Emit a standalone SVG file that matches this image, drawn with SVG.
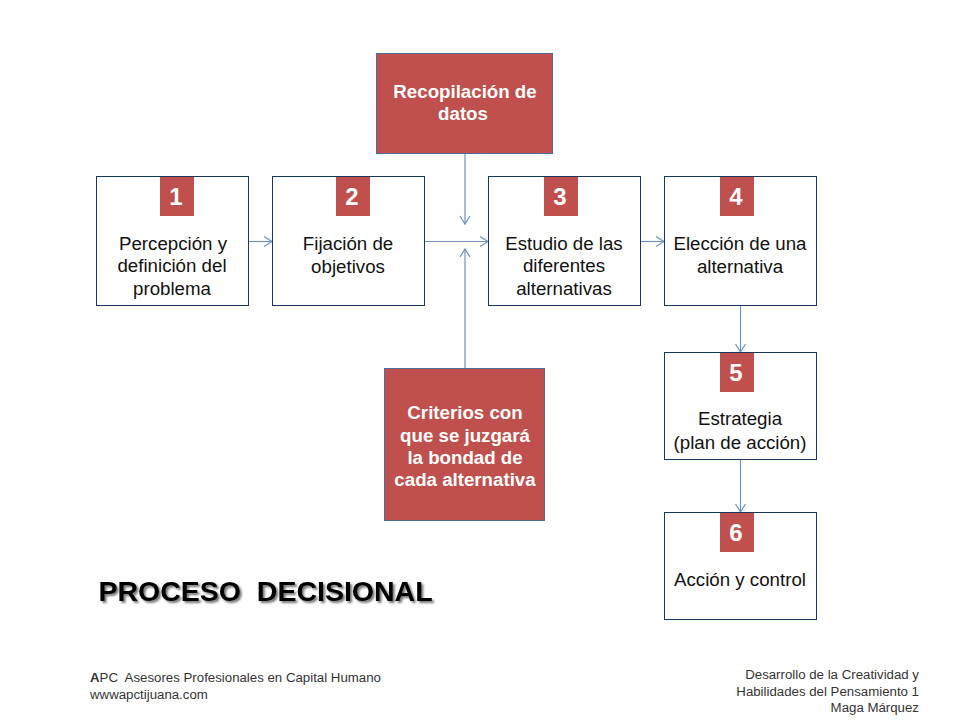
<svg xmlns="http://www.w3.org/2000/svg" width="960" height="720" viewBox="0 0 960 720">
<style>
text{font-family:"Liberation Sans",Arial,sans-serif;text-anchor:middle;fill:#111}
.box{fill:#fff;stroke:#17375e;stroke-width:1}
.red{fill:#c0504d;stroke:#4f6d9a;stroke-width:1}
.badge{fill:#c0504d}
.num{font-size:24px;font-weight:bold;fill:#fff}
.lbl{font-size:18.700px}
.w{font-size:18.700px;font-weight:bold;fill:#fff}
.foot{font-size:13.250px;fill:#333}
.c{fill:none;stroke:#6f93bd;stroke-width:1.2}
.h{fill:none;stroke:#6f93bd;stroke-width:1.2}
</style>
<defs>
<marker id="a" markerUnits="userSpaceOnUse" markerWidth="12" markerHeight="14" refX="10" refY="7" orient="auto"><path class="h" d="M2 2 L10 7 L2 12"/></marker>
<filter id="s" x="-5%" y="-30%" width="110%" height="160%"><feDropShadow dx="2" dy="2" stdDeviation="1.2" flood-color="#000" flood-opacity=".55"/></filter>
</defs>
<rect width="960" height="720" fill="#fff"/>
<g id="connectors">
<path class="c" marker-end="url(#a)" d="M248.500 241.500H272"/>
<path class="c" marker-end="url(#a)" d="M425 241.500H488"/>
<path class="c" marker-end="url(#a)" d="M640.500 241.500H664"/>
<path class="c" marker-end="url(#a)" d="M465 153V224"/>
<path class="c" marker-end="url(#a)" d="M465 368V249"/>
<path class="c" marker-end="url(#a)" d="M740.500 305V352"/>
<path class="c" marker-end="url(#a)" d="M740.500 460V512"/>
</g>
<g id="n1"><rect class="box" x="96.500" y="176.500" width="152" height="129"/><rect class="badge" x="160" y="177" width="34" height="39"/><text class="num" x="176" y="205">1</text><text class="lbl"><tspan x="173" y="250">Percepción y</tspan><tspan x="172" y="272">definición del</tspan><tspan x="172" y="295">problema</tspan></text></g>
<g id="n2"><rect class="box" x="272.500" y="176.500" width="152" height="129"/><rect class="badge" x="336" y="177" width="34" height="39"/><text class="num" x="352" y="205">2</text><text class="lbl"><tspan x="348" y="250">Fijación de</tspan><tspan x="348" y="273">objetivos</tspan></text></g>
<g id="n3"><rect class="box" x="488.500" y="176.500" width="152" height="129"/><rect class="badge" x="544" y="177" width="34" height="39"/><text class="num" x="560" y="205">3</text><text class="lbl"><tspan x="564" y="250">Estudio de las</tspan><tspan x="564" y="272">diferentes</tspan><tspan x="564" y="295">alternativas</tspan></text></g>
<g id="n4"><rect class="box" x="664.500" y="176.500" width="152" height="129"/><rect class="badge" x="720" y="177" width="34" height="39"/><text class="num" x="736" y="205">4</text><text class="lbl"><tspan x="740" y="250">Elección de una</tspan><tspan x="740" y="273">alternativa</tspan></text></g>
<g id="n5"><rect class="box" x="664.500" y="352.500" width="152" height="107"/><rect class="badge" x="720" y="353" width="34" height="39"/><text class="num" x="736" y="381">5</text><text class="lbl"><tspan x="740" y="425">Estrategia</tspan><tspan x="740" y="449">(plan de acción)</tspan></text></g>
<g id="n6"><rect class="box" x="664.500" y="512.500" width="152" height="107"/><rect class="badge" x="720" y="513" width="34" height="39"/><text class="num" x="736" y="541">6</text><text class="lbl" x="740" y="586">Acción y control</text></g>
<g id="r1"><rect class="red" x="376.500" y="53.500" width="176" height="100"/><text class="w"><tspan x="465" y="98">Recopilación de</tspan><tspan x="463" y="120">datos</tspan></text></g>
<g id="r2"><rect class="red" x="384.500" y="368.500" width="160" height="152"/><text class="w"><tspan x="465" y="419">Criterios con</tspan><tspan x="465" y="442">que se juzgará</tspan><tspan x="465" y="464">la bondad de</tspan><tspan x="465" y="486">cada alternativa</tspan></text></g>
<text x="265.500" y="601" font-size="28.500" font-weight="bold" style="fill:#000;white-space:pre" filter="url(#s)">PROCESO  DECISIONAL</text>
<text class="foot" style="text-anchor:start;white-space:pre"><tspan x="90" y="682"><tspan font-weight="bold">A</tspan>PC  Asesores Profesionales en Capital Humano</tspan><tspan x="90" y="699">wwwapctijuana.com</tspan></text>
<text class="foot" style="text-anchor:end"><tspan x="919" y="679">Desarrollo de la Creatividad y</tspan><tspan x="919" y="696">Habilidades del Pensamiento 1</tspan><tspan x="919" y="712">Maga Márquez</tspan></text>
</svg>
